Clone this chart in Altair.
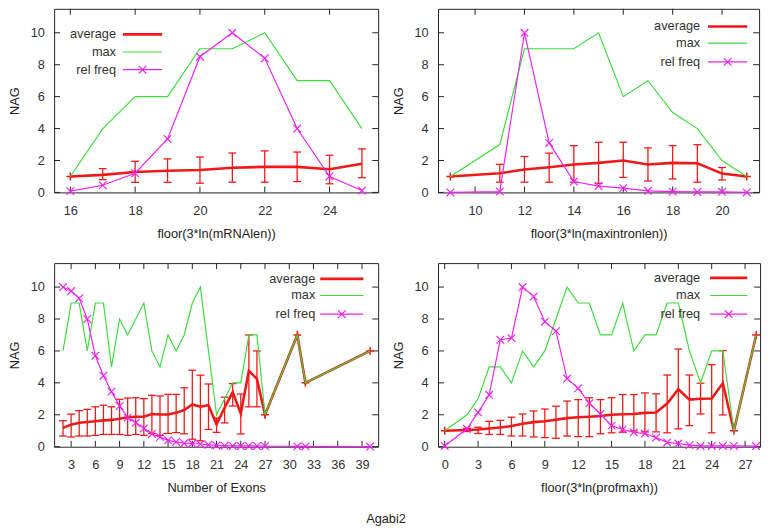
import altair as alt
import pandas as pd

# ---------------- data ----------------
# Panel 1: floor(3*ln(mRNAlen))
x1 = [16, 17, 18, 19, 20, 21, 22, 23, 24, 25]
avg1 = [1.0, 1.1, 1.28, 1.36, 1.4, 1.55, 1.6, 1.6, 1.45, 1.8]
up1 = [1.0, 1.49, 1.95, 2.1, 2.22, 2.47, 2.6, 2.53, 2.33, 2.73]
lo1 = [1.0, 0.8, 0.63, 0.63, 0.58, 0.64, 0.64, 0.68, 0.54, 0.92]
max1 = [1, 4, 6, 6, 9, 9, 10, 7, 7, 4]
freq1 = [0.08, 0.45, 1.2, 3.35, 8.5, 10.0, 8.4, 4.0, 1.0, 0.12]

# Panel 2: floor(3*ln(maxintronlen))
x2 = [9, 11, 12, 13, 14, 15, 16, 17, 18, 19, 20, 21]
avg2 = [1.0, 1.2, 1.43, 1.58, 1.75, 1.85, 2.0, 1.75, 1.85, 1.83, 1.18, 1.0]
up2 = [1.0, 1.76, 2.25, 2.46, 2.93, 3.14, 3.14, 2.79, 2.93, 2.99, 1.56, 1.0]
lo2 = [1.0, 0.64, 0.64, 0.64, 0.64, 0.57, 0.94, 0.72, 0.84, 0.64, 0.78, 1.0]
max2 = [1, 3, 9, 9, 9, 10, 6, 7, 5, 4, 2, 1]
freq2 = [0.0, 0.05, 10.0, 3.1, 0.68, 0.4, 0.27, 0.1, 0.05, 0.03, 0.04, 0.0]

# Panel 3: Number of Exons
x3 = [2, 3, 4, 5, 6, 7, 8, 9, 10, 11, 12, 13, 14, 15, 16, 17, 18, 19, 20,
      21, 22, 23, 24, 25, 26, 27, 31, 32, 40]
avg3 = [1.18, 1.38, 1.5, 1.55, 1.6, 1.65, 1.68, 1.75, 1.85, 1.88, 1.88, 2.05,
        2.02, 2.02, 2.12, 2.3, 2.65, 2.5, 2.6, 1.4, 2.45, 3.42, 2.08, 4.75,
        4.25, 2.0, 7.0, 4.0, 6.0]
up3 = [1.63, 2.04, 2.26, 2.34, 2.5, 2.6, 2.5, 2.97, 3.05, 3.07, 3.01, 3.22,
       3.18, 3.28, 3.28, 3.69, 4.79, 4.48, 3.93, 1.8, 3.1, 3.95, 3.3, 7.0,
       6.0, 2.0, 7.0, 4.0, 6.0]
lo3 = [0.67, 0.61, 0.67, 0.67, 0.71, 0.77, 0.77, 0.77, 0.71, 0.77, 0.71, 0.83,
       0.71, 0.83, 0.88, 0.81, 0.47, 0.37, 1.08, 0.9, 1.49, 2.55, 0.8, 2.5,
       2.5, 2.0, 7.0, 4.0, 6.0]
max3 = [6, 9, 9, 6, 9, 9, 5, 8, 7, 8, 9, 6, 5, 7, 6, 7, 9, 10, 6, 2, 3, 4, 4,
        7, 7, 2, 7, 4, 6]
freq3 = [10.0, 9.75, 9.3, 8.0, 5.7, 4.45, 3.45, 2.55, 1.82, 1.5, 1.15, 0.8,
         0.6, 0.4, 0.3, 0.22, 0.2, 0.17, 0.12, 0.08, 0.06, 0.05, 0.05, 0.05,
         0.05, 0.03, 0.02, 0.02, 0.01]

# Panel 4: floor(3*ln(profmaxh))
x4 = [0, 2, 3, 4, 5, 6, 7, 8, 9, 10, 11, 12, 13, 14, 15, 16, 17, 18, 19, 20,
      21, 22, 23, 24, 25, 26, 28]
avg4 = [1.0, 1.05, 1.08, 1.14, 1.2, 1.3, 1.44, 1.54, 1.6, 1.69, 1.79, 1.85,
        1.88, 1.92, 2.0, 2.03, 2.05, 2.12, 2.14, 2.7, 3.6, 2.95, 3.0, 3.02,
        3.98, 1.0, 7.0]
up4 = [1.0, 1.15, 1.22, 1.59, 1.65, 1.85, 2.05, 2.24, 2.36, 2.54, 2.86, 2.95,
       3.07, 2.95, 3.07, 3.27, 3.27, 3.37, 3.31, 4.49, 6.12, 4.49, 3.98, 5.14,
       6.02, 1.0, 7.0]
lo4 = [1.0, 0.95, 0.83, 0.77, 0.77, 0.67, 0.67, 0.61, 0.57, 0.53, 0.67, 0.63,
       0.63, 0.81, 0.87, 0.91, 0.98, 0.93, 0.93, 0.87, 1.12, 1.32, 2.05, 0.87,
       1.99, 1.0, 7.0]
max4 = [1, 2, 3, 5, 5, 4, 6, 5, 6, 8, 10, 9, 9, 7, 7, 9, 6, 7, 7, 9, 9, 6, 4,
        6, 6, 1, 7]
freq4 = [0.05, 1.12, 2.15, 3.25, 6.7, 6.8, 10.0, 9.4, 7.83, 7.24, 4.27, 3.66,
         2.72, 2.05, 1.32, 1.08, 0.9, 0.83, 0.57, 0.27, 0.2, 0.1, 0.05, 0.05,
         0.05, 0.05, 0.04]

y_ticks = [0, 2, 4, 6, 8, 10]
legend_labels = ["average", "max", "rel freq"]

# ---------------- style ----------------
FONT = "Liberation Sans"
RED = "#f01818"
GREEN = "#3ddc3d"
MAG = "#ee22ee"
FRAME = "#222222"
H = 187
XSH = "M-1,-1L1,1M-1,1L1,-1"
PLUS = "M-1,0L1,0M0,-1L0,1"
HLINE = "M-1,0L1,0"


def make_panel(x, avg, lo, up, mx, fr, xdom, xticks, xtitle, W, leg):
    df = pd.DataFrame({"x": x, "avg": avg, "lo": lo, "up": up,
                       "mx": mx, "fr": fr})
    xs = alt.Scale(domain=xdom, nice=False, zero=False)
    ys = alt.Scale(domain=[0, 11.5], nice=False, zero=False)
    xax = alt.Axis(values=xticks, title=xtitle, format="d")
    yax = alt.Axis(values=y_ticks, title="NAG", format="d")

    def X(f):
        return alt.X(f, type="quantitative", scale=xs, axis=xax)

    def Y(f):
        return alt.Y(f, type="quantitative", scale=ys, axis=yax)

    base = alt.Chart(df)
    xt = alt.Chart(pd.DataFrame({"v": xticks}))
    yt = alt.Chart(pd.DataFrame({"v": y_ticks}))

    layers = [
        xt.mark_rule(color=FRAME, strokeWidth=1).encode(
            x=X("v"), y=alt.value(H), y2=alt.value(H - 6)),
        xt.mark_rule(color=FRAME, strokeWidth=1).encode(
            x=X("v"), y=alt.value(0), y2=alt.value(6)),
        yt.mark_rule(color=FRAME, strokeWidth=1).encode(
            y=Y("v"), x=alt.value(0), x2=alt.value(6)),
        yt.mark_rule(color=FRAME, strokeWidth=1).encode(
            y=Y("v"), x=alt.value(W), x2=alt.value(W - 6)),
        base.transform_filter("datum.up > datum.lo").mark_rule(
            color=RED, strokeWidth=1.3).encode(x=X("x"), y=Y("lo"), y2="up"),
        base.transform_filter("datum.up > datum.lo").mark_point(
            shape=HLINE, size=64, filled=False, color=RED, strokeWidth=1.3,
            opacity=1).encode(x=X("x"), y=Y("up")),
        base.transform_filter("datum.up > datum.lo").mark_point(
            shape=HLINE, size=64, filled=False, color=RED, strokeWidth=1.3,
            opacity=1).encode(x=X("x"), y=Y("lo")),
        base.mark_line(color=RED, strokeWidth=2.6).encode(x=X("x"), y=Y("avg")),
        base.transform_filter("datum.up <= datum.lo").mark_point(
            shape=PLUS, size=64, filled=False, color=RED, strokeWidth=1.5,
            opacity=1).encode(x=X("x"), y=Y("avg")),
        base.mark_line(color=GREEN, strokeWidth=1.2).encode(x=X("x"), y=Y("mx")),
        base.mark_line(color=MAG, strokeWidth=1.2).encode(x=X("x"), y=Y("fr")),
        base.mark_point(shape=XSH, size=60, filled=False, color=MAG,
                        strokeWidth=1.2, opacity=1).encode(x=X("x"), y=Y("fr")),
    ]

    tx, s0, s1, rows = leg
    colors = [RED, GREEN, MAG]
    widths = [2.8, 1.2, 1.2]
    for i, lab in enumerate(legend_labels):
        one = alt.Chart(pd.DataFrame({"t": [lab]}))
        layers.append(one.mark_text(align="right", baseline="middle",
                                    font=FONT, fontSize=13, color="#333333").encode(
            text="t:N", x=alt.value(tx), y=alt.value(rows[i])))
        layers.append(one.mark_rule(color=colors[i], strokeWidth=widths[i]).encode(
            x=alt.value(s0), x2=alt.value(s1), y=alt.value(rows[i])))
        if i == 2:
            layers.append(one.mark_point(shape=XSH, size=60, filled=False,
                                         color=MAG, strokeWidth=1.2,
                                         opacity=1).encode(
                x=alt.value((s0 + s1) / 2), y=alt.value(rows[i])))

    return alt.layer(*layers).properties(width=W, height=H)


p1 = make_panel(x1, avg1, lo1, up1, max1, freq1, [15.5, 25.5],
                [16, 18, 20, 22, 24], "floor(3*ln(mRNAlen))", 330,
                (63, 70, 110, [26, 44, 62]))
p2 = make_panel(x2, avg2, lo2, up2, max2, freq2, [8.5, 21.5],
                [10, 12, 14, 16, 18, 20], "floor(3*ln(maxintronlen))", 327,
                (267, 275, 315, [18, 35, 54]))
p3 = make_panel(x3, avg3, lo3, up3, max3, freq3, [0.9, 41.0],
                list(range(3, 40, 3)), "Number of Exons", 330,
                (266, 271, 315, [16, 33, 52]))
p4 = make_panel(x4, avg4, lo4, up4, max4, freq4, [-0.6, 28.35],
                list(range(0, 28, 3)), "floor(3*ln(profmaxh))", 328,
                (267, 277, 315, [15, 33, 52]))

chart = alt.vconcat(
    alt.hconcat(p1, p2, spacing=13),
    alt.hconcat(p3, p4, spacing=13),
    spacing=21,
).properties(
    title=alt.TitleParams("Agabi2", orient="bottom", anchor="middle",
                          fontSize=13, font=FONT, fontWeight="normal",
                          color="#222222", offset=18),
    padding={"top": -5, "left": 0, "right": 0, "bottom": 0},
).configure_view(
    stroke=FRAME, strokeWidth=1
).configure_axis(
    labelFont=FONT, labelFontSize=13, labelColor="#333333",
    titleFont=FONT, titleFontSize=13, titleFontWeight="normal",
    titleColor="#222222", domain=False, ticks=False, tickSize=0, grid=False,
    labelFlush=False, labelOverlap=False
).configure_axisX(
    labelPadding=12, minExtent=25, maxExtent=25, titlePadding=11
).configure_axisY(
    labelPadding=10, minExtent=23, maxExtent=23, titlePadding=10
)

chart.save("out.html", embed_options={"renderer": "svg", "actions": False})
